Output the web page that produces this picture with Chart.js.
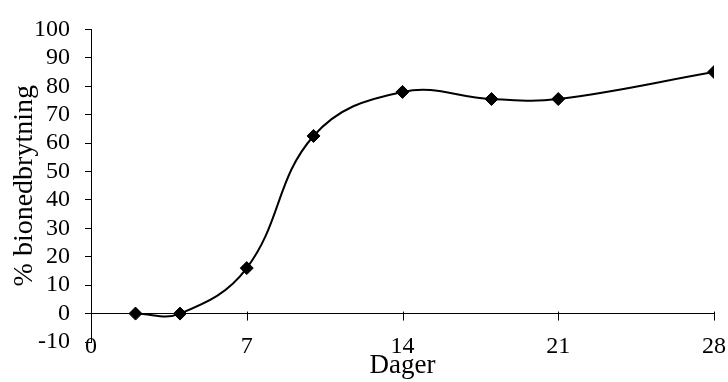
<!DOCTYPE html>
<html>
<head>
<meta charset="utf-8">
<script src="https://cdn.jsdelivr.net/npm/chart.js@4/dist/chart.umd.min.js"></script>
<style>
  html, body { margin: 0; padding: 0; background: #fff; }
  #grafico-wrap { width: 728px; height: 382px; }
</style>
</head>
<body>
<div id="grafico-wrap"><canvas id="graficoNedbrytning"></canvas></div>
<script>
// data
const dager = [2, 4, 7, 10, 14, 18, 21, 28];
const bionedbrytning = [0, 0, 16, 62.5, 78, 75.5, 75.5, 85];
const xTicks = [0, 7, 14, 21, 28];
const yMin = -10;
const yMax = 100;

const fuente = 'Liberation Serif, Times New Roman, serif';

// small tick marks hanging below the x axis line at y = 0
const marcasEjeX = {
  id: 'marcasEjeX',
  beforeDatasetsDraw(chart) {
    const { ctx, scales } = chart;
    const y0 = scales.y.getPixelForValue(0);
    ctx.save();
    ctx.strokeStyle = '#000';
    ctx.lineWidth = 1;
    xTicks.forEach(v => {
      if (v === 0) return;
      const px = Math.round(scales.x.getPixelForValue(v)) + 0.5;
      ctx.beginPath();
      ctx.moveTo(px, y0 - 2);
      ctx.lineTo(px, y0 + 7);
      ctx.stroke();
    });
    ctx.restore();
  }
};

new Chart(document.getElementById('graficoNedbrytning'), {
  type: 'line',
  data: {
    datasets: [{
      data: dager.map((d, i) => ({ x: d, y: bionedbrytning[i] })),
      borderColor: '#000',
      backgroundColor: '#000',
      borderWidth: 2,
      tension: 0.4,
      fill: false,
      pointStyle: 'rectRot',
      pointRadius: 6.5,
      pointBorderWidth: 1,
      pointBackgroundColor: '#000',
      pointBorderColor: '#000'
    }]
  },
  options: {
    responsive: true,
    maintainAspectRatio: false,
    animation: false,
    events: [],
    layout: { padding: { top: 26, right: 14, left: 0, bottom: 0 } },
    plugins: {
      legend: { display: false },
      tooltip: { enabled: false }
    },
    scales: {
      x: {
        type: 'linear',
        min: 0,
        max: 28,
        afterBuildTicks: s => { s.ticks = xTicks.map(v => ({ value: v })); },
        afterFit: s => {
          s.height = 40;
          // labels sit a little above the bottom of the plot, don't clip them
          s._computeLabelArea = () => undefined;
        },
        grid: { display: false, drawTicks: false },
        border: { display: false },
        ticks: {
          color: '#000',
          padding: -10,
          maxRotation: 0,
          autoSkip: false,
          font: { family: fuente, size: 24 }
        },
        title: {
          display: true,
          text: 'Dager',
          color: '#000',
          padding: 0,
          font: { family: fuente, size: 27 }
        }
      },
      y: {
        min: yMin,
        max: yMax,
        afterFit: s => { s.width = 91; },
        grid: {
          drawTicks: true,
          tickLength: 6,
          tickColor: '#000',
          color: ctx => (ctx.tick && ctx.tick.value === 0 ? '#000' : 'rgba(0,0,0,0)'),
          lineWidth: 1
        },
        border: { display: true, color: '#000', width: 1 },
        ticks: {
          stepSize: 10,
          autoSkip: false,
          color: '#000',
          padding: 15,
          font: { family: fuente, size: 24 }
        },
        title: {
          display: true,
          text: '% bionedbrytning',
          color: '#000',
          padding: { top: 8, bottom: 0 },
          font: { family: fuente, size: 28 }
        }
      }
    }
  },
  plugins: [marcasEjeX]
});
</script>
</body>
</html>
